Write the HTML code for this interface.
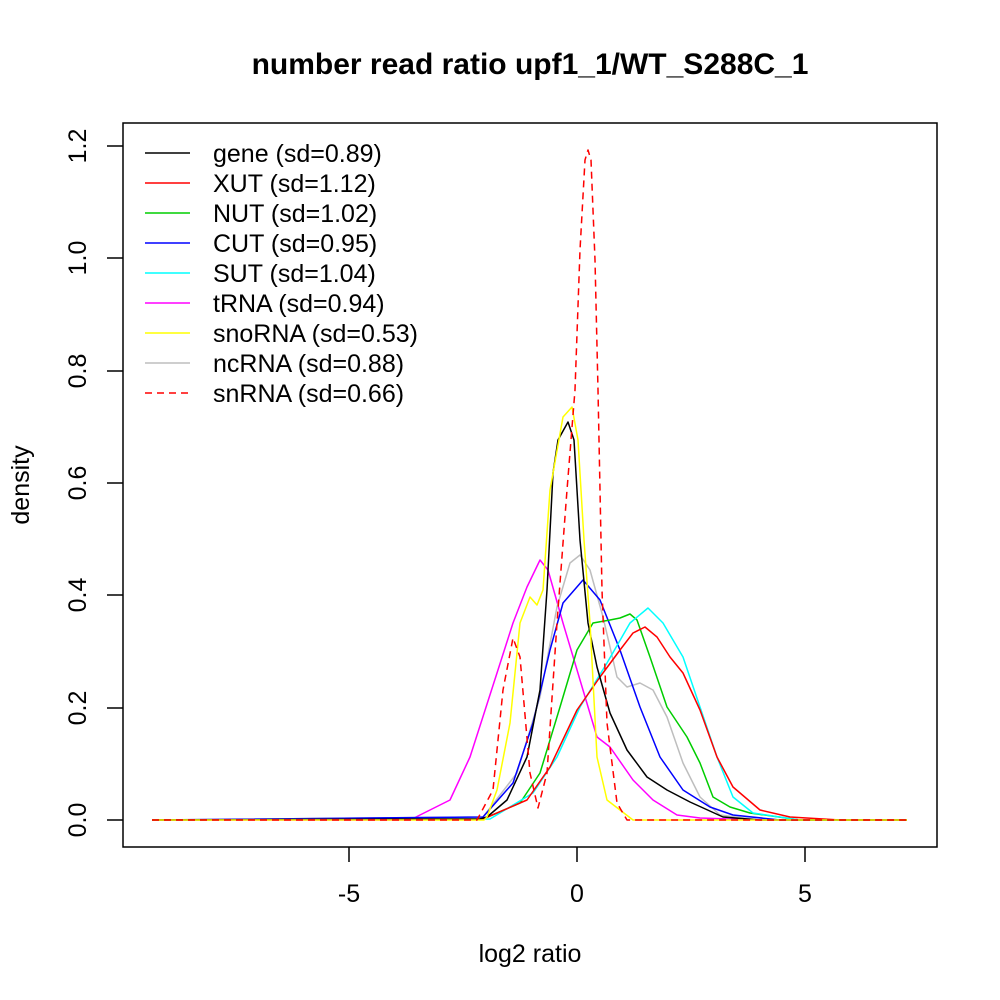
<!DOCTYPE html>
<html><head><style>body{margin:0;background:#fff}svg{display:block}</style></head><body>
<svg width="1000" height="1000" xmlns="http://www.w3.org/2000/svg" font-family="Liberation Sans, sans-serif">
<rect width="1000" height="1000" fill="#fff"/>
<text x="530" y="74" text-anchor="middle" font-size="30" font-weight="bold">number read ratio upf1_1/WT_S288C_1</text>
<rect x="123" y="123" width="814" height="724" fill="none" stroke="#000" stroke-width="1.5"/>
<g stroke="#000" stroke-width="1.5">
<line x1="349" y1="847" x2="349" y2="862"/><line x1="577" y1="847" x2="577" y2="862"/><line x1="805" y1="847" x2="805" y2="862"/>
<line x1="107" y1="820" x2="123" y2="820"/><line x1="107" y1="708" x2="123" y2="708"/><line x1="107" y1="595" x2="123" y2="595"/><line x1="107" y1="483" x2="123" y2="483"/><line x1="107" y1="371" x2="123" y2="371"/><line x1="107" y1="258" x2="123" y2="258"/><line x1="107" y1="146" x2="123" y2="146"/>
</g>
<g font-size="25" text-anchor="middle">
<text x="349" y="902">-5</text><text x="577" y="902">0</text><text x="805" y="902">5</text>
<text x="530" y="962">log2 ratio</text>
<text transform="translate(29,485) rotate(-90)">density</text>
<text transform="translate(86,820) rotate(-90)">0.0</text>
<text transform="translate(86,708) rotate(-90)">0.2</text>
<text transform="translate(86,595) rotate(-90)">0.4</text>
<text transform="translate(86,483) rotate(-90)">0.6</text>
<text transform="translate(86,371) rotate(-90)">0.8</text>
<text transform="translate(86,258) rotate(-90)">1.0</text>
<text transform="translate(86,146) rotate(-90)">1.2</text>
</g>
<g fill="none" stroke-width="1.5" stroke-linejoin="round">
<polyline stroke="#ff00ff" points="152,820 410,820 450,800 470,757 497,673 513,623 527,587 540,560 548,570 563,623 583,690 597,737 610,747 633,780 653,800 677,815 700,818 760,820 907,820"/>
<polyline stroke="#bebebe" points="152,820 483,817 517,773 540,697 557,607 570,563 580,555 590,570 603,617 617,677 627,687 640,683 653,690 667,717 683,763 700,797 720,815 760,820 907,820"/>
<polyline stroke="#0000ff" points="152,820 483,817 513,783 533,723 550,650 563,603 583,580 600,600 620,650 640,707 660,757 683,790 710,807 733,815 780,820 907,820"/>
<polyline stroke="#00cd00" points="152,820 483,819 520,803 540,773 560,707 577,650 593,623 610,620 620,618 630,614 637,620 650,657 667,707 687,737 700,763 713,797 730,807 750,813 800,820 907,820"/>
<polyline stroke="#00ffff" points="152,820 490,819 533,793 557,757 580,707 607,663 630,623 648,608 663,623 683,657 700,707 717,757 733,797 753,813 800,820 907,820"/>
<polyline stroke="#ff0000" points="152,820 483,819 527,800 550,767 577,710 600,677 620,650 633,633 645,627 657,637 670,657 683,673 700,710 717,757 733,787 760,810 790,817 840,820 907,820"/>
<polyline stroke="#000" points="152,820 480,819 487,817 507,800 527,757 540,690 547,590 553,473 558,440 568,422 574,440 580,540 588,623 597,667 610,713 627,750 647,777 667,790 690,802 723,817 760,820 907,820"/>
<polyline stroke="#ffff00" points="152,820 484,820 487,817 497,790 510,723 520,623 530,597 537,605 543,590 550,490 563,417 572,407 578,440 584,540 590,623 597,757 607,800 620,810 633,820 907,820"/>
<polyline stroke="#ff0000" stroke-dasharray="7,5" points="152,820 477,820 493,790 503,690 513,638 520,657 530,773 538,808 547,773 557,623 567,490 575,390 580,250 585,160 588,150 591,160 595,260 598,390 602,590 607,723 617,803 627,820 907,820"/>
</g>
<g stroke-width="1.5">
<line x1="145" y1="153" x2="190" y2="153" stroke="#000"/>
<line x1="145" y1="183" x2="190" y2="183" stroke="#ff0000"/>
<line x1="145" y1="213" x2="190" y2="213" stroke="#00cd00"/>
<line x1="145" y1="243" x2="190" y2="243" stroke="#0000ff"/>
<line x1="145" y1="273" x2="190" y2="273" stroke="#00ffff"/>
<line x1="145" y1="303" x2="190" y2="303" stroke="#ff00ff"/>
<line x1="145" y1="333" x2="190" y2="333" stroke="#ffff00"/>
<line x1="145" y1="363" x2="190" y2="363" stroke="#bebebe"/>
<line x1="145" y1="393" x2="190" y2="393" stroke="#ff0000" stroke-dasharray="7,5"/>
</g>
<g font-size="25">
<text x="213" y="162">gene (sd=0.89)</text>
<text x="213" y="192">XUT (sd=1.12)</text>
<text x="213" y="222">NUT (sd=1.02)</text>
<text x="213" y="252">CUT (sd=0.95)</text>
<text x="213" y="282">SUT (sd=1.04)</text>
<text x="213" y="312">tRNA (sd=0.94)</text>
<text x="213" y="342">snoRNA (sd=0.53)</text>
<text x="213" y="372">ncRNA (sd=0.88)</text>
<text x="213" y="402">snRNA (sd=0.66)</text>
</g>
</svg>
</body></html>
